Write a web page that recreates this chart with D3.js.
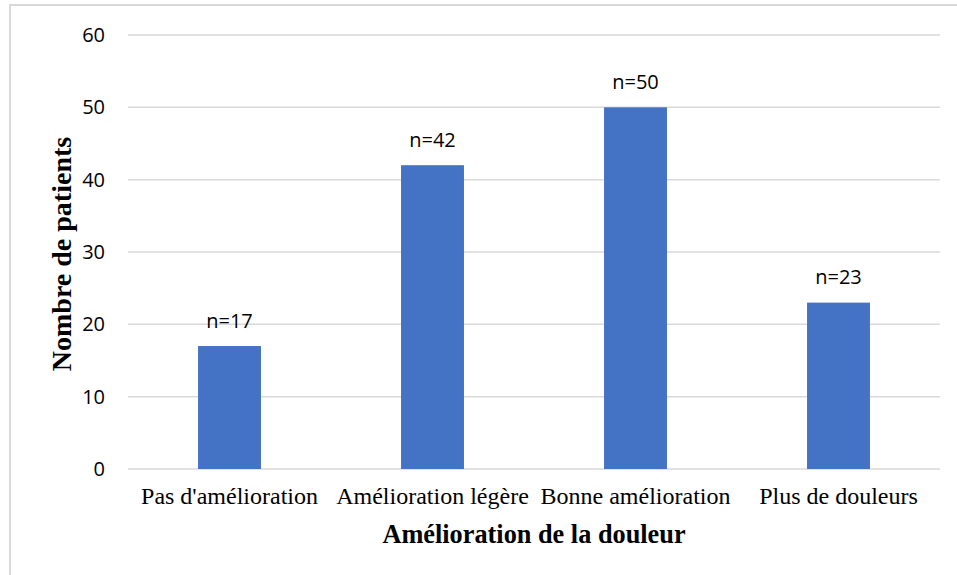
<!DOCTYPE html>
<html><head><meta charset="utf-8">
<script src="https://cdn.jsdelivr.net/npm/d3@7/dist/d3.min.js"></script>
<style>body{margin:0;background:#fff}</style>
</head><body>
<svg id="c" width="957" height="575"></svg>
<script>
const categories = ["Pas d'amélioration", "Amélioration légère", "Bonne amélioration", "Plus de douleurs"];
const values = [17, 42, 50, 23];
const labels = ["n=17", "n=42", "n=50", "n=23"];
const yTicks = [0, 10, 20, 30, 40, 50, 60];

(function () {
const svg = d3.select("#c");
svg.append("rect").attr("x", 10).attr("y", 5).attr("width", 960).attr("height", 600)
  .attr("fill", "#fff").attr("stroke", "#d9d9d9").attr("stroke-width", 2);

const pLeft = 128, pRight = 940, pTop = 35, pBottom = 469;
const x = d3.scaleBand().domain(categories).range([pLeft, pRight]).paddingInner(0.69).paddingOuter(0.345);
const y = d3.scaleLinear().domain([0, 60]).range([pBottom, pTop]);

const grid = svg.append("g");
grid.selectAll("line").data(yTicks).join("line")
  .attr("x1", pLeft).attr("x2", pRight)
  .attr("y1", d => y(d)).attr("y2", d => y(d))
  .attr("stroke", "#d9d9d9").attr("stroke-width", 1.5);

const yAxis = svg.append("g").attr("transform", `translate(${pLeft},0)`)
  .call(d3.axisLeft(y).tickValues(yTicks).tickSize(0).tickPadding(23));
yAxis.select(".domain").remove();
yAxis.selectAll("text").attr("font-family", "'Open Sans', sans-serif").attr("font-size", 20).attr("fill", "#000");

svg.selectAll("rect.bar").data(values).join("rect").attr("class", "bar")
  .attr("x", (d, i) => x(categories[i])).attr("width", x.bandwidth())
  .attr("y", d => y(d)).attr("height", d => y(0) - y(d))
  .attr("fill", "#4472c4");

svg.selectAll("text.lbl").data(values).join("text").attr("class", "lbl")
  .attr("x", (d, i) => x(categories[i]) + x.bandwidth() / 2)
  .attr("y", d => y(d) - 18.5)
  .attr("text-anchor", "middle")
  .attr("font-family", "'Open Sans', sans-serif").attr("font-size", 20).attr("fill", "#000")
  .text((d, i) => labels[i]);

const xAxis = svg.append("g").attr("transform", `translate(0,${pBottom})`)
  .call(d3.axisBottom(x).tickSize(0));
xAxis.select(".domain").remove();
xAxis.selectAll("text").attr("dy", null).attr("y", 35)
  .attr("font-family", "'Liberation Serif', 'Times New Roman', serif").attr("font-size", 24).attr("fill", "#000");

svg.append("text").attr("x", (pLeft + pRight) / 2).attr("y", 543)
  .attr("text-anchor", "middle").attr("font-family", "'Liberation Serif', serif")
  .attr("font-weight", "bold").attr("font-size", 26.3).attr("fill", "#000")
  .text("Amélioration de la douleur");

svg.append("text").attr("transform", `translate(71,254) rotate(-90)`)
  .attr("text-anchor", "middle").attr("font-family", "'Liberation Serif', serif")
  .attr("font-weight", "bold").attr("font-size", 28).attr("fill", "#000")
  .text("Nombre de patients");
})();
</script>
</body></html>
